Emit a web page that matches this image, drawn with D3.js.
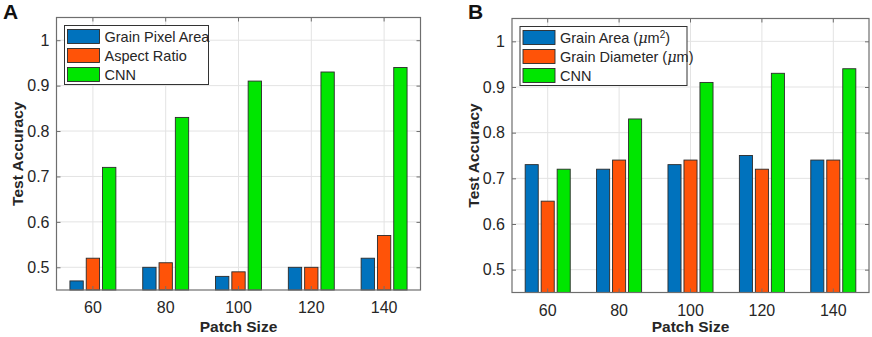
<!DOCTYPE html>
<html>
<head>
<meta charset="utf-8">
<script src="https://cdn.jsdelivr.net/npm/d3@7"></script>
<style>
  body { margin: 0; background: #fff; }
  svg { font-family: "Liberation Sans", Arial, Helvetica, sans-serif; }
</style>
</head>
<body>
<svg id="chart" width="872" height="337"></svg>
<script>
// data
const patchSizes = ['60', '80', '100', '120', '140'];
const yTicks = [0.5, 0.6, 0.7, 0.8, 0.9, 1];

const grainPixelArea = [0.47, 0.50, 0.48, 0.50, 0.52];
const aspectRatio = [0.52, 0.51, 0.49, 0.50, 0.57];
const cnnA = [0.72, 0.83, 0.91, 0.93, 0.94];

const grainArea = [0.73, 0.72, 0.73, 0.75, 0.74];
const grainDiameter = [0.65, 0.74, 0.74, 0.72, 0.74];
const cnnB = [0.72, 0.83, 0.91, 0.93, 0.94];

const colors = ['#0072bd', '#ff5308', '#00e600'];

const svg = d3.select('#chart');

const drawPanel = ({ letter, letterX, box, series, labels, yLabelX }) => {
    const x = d3.scaleBand().domain(patchSizes).range([box.left, box.right]).padding(0);
    const y = d3.scaleLinear().domain([0.45, 1.05]).range([box.bottom, box.top]);
    const bw = x.bandwidth();
    const x1 = d3
        .scaleBand()
        .domain(d3.range(series.length))
        .range([bw * (0.5 - 0.336), bw * (0.5 + 0.336)])
        .paddingInner(0.183)
        .paddingOuter(0.0915);

    const g = svg.append('g');

    // grid
    g.selectAll()
        .data(yTicks)
        .join('line')
        .attr('x1', box.left)
        .attr('x2', box.right)
        .attr('y1', (d) => y(d))
        .attr('y2', (d) => y(d))
        .attr('stroke', '#e3e3e3')
        .attr('stroke-width', 1);
    g.selectAll()
        .data(patchSizes)
        .join('line')
        .attr('x1', (d) => x(d) + bw / 2)
        .attr('x2', (d) => x(d) + bw / 2)
        .attr('y1', box.top)
        .attr('y2', box.bottom)
        .attr('stroke', '#e3e3e3')
        .attr('stroke-width', 1);

    // bars
    series.forEach((vals, si) => {
        g.selectAll()
            .data(vals)
            .join('rect')
            .attr('x', (d, i) => x(patchSizes[i]) + x1(si))
            .attr('width', x1.bandwidth())
            .attr('y', (d) => y(d))
            .attr('height', (d) => box.bottom - y(d))
            .attr('fill', colors[si])
            .attr('stroke', '#2b2b2b')
            .attr('stroke-width', 0.9);
    });

    // axes
    const yAxis = g.append('g').attr('transform', `translate(${box.left},0)`)
        .call(d3.axisLeft(y).tickValues(yTicks).tickFormat(d3.format('~g')).tickSize(-4).tickPadding(7));
    const yAxisR = g.append('g').attr('transform', `translate(${box.right},0)`)
        .call(d3.axisRight(y).tickValues(yTicks).tickFormat('').tickSize(-4));
    const xAxis = g.append('g').attr('transform', `translate(0,${box.bottom})`)
        .call(d3.axisBottom(x).tickSize(-4).tickPadding(12));
    const xAxisT = g.append('g').attr('transform', `translate(0,${box.top})`)
        .call(d3.axisTop(x).tickFormat('').tickSize(-4));
    [yAxis, yAxisR, xAxis, xAxisT].forEach((a) => {
        a.select('.domain').remove();
        a.selectAll('.tick line').attr('stroke', '#6e6e6e');
        a.selectAll('text').attr('font-size', 16).attr('fill', '#262626')
            .attr('font-family', '"Liberation Sans", Arial, sans-serif');
    });

    g.append('rect')
        .attr('x', box.left)
        .attr('y', box.top)
        .attr('width', box.right - box.left)
        .attr('height', box.bottom - box.top)
        .attr('fill', 'none')
        .attr('stroke', '#6e6e6e')
        .attr('stroke-width', 1.2);

    // axis labels
    g.append('text')
        .attr('x', (box.left + box.right) / 2)
        .attr('y', 332)
        .attr('text-anchor', 'middle')
        .attr('font-size', 15.5)
        .attr('font-weight', 'bold')
        .attr('fill', '#262626')
        .text('Patch Size');
    g.append('text')
        .attr('transform', `translate(${yLabelX},${(box.top + box.bottom) / 2}) rotate(-90)`)
        .attr('text-anchor', 'middle')
        .attr('font-size', 15.5)
        .attr('font-weight', 'bold')
        .attr('fill', '#262626')
        .text('Test Accuracy');

    // panel letter
    g.append('text')
        .attr('x', letterX)
        .attr('y', 19)
        .attr('font-size', 21)
        .attr('font-weight', 'bold')
        .attr('fill', '#111')
        .text(letter);

    // legend
    const lg = g.append('g').attr('transform', `translate(${box.left + 8},${box.top + 8})`);
    lg.append('rect')
        .attr('width', labels.width)
        .attr('height', 59)
        .attr('fill', '#fff')
        .attr('stroke', '#333')
        .attr('stroke-width', 1);
    labels.items.forEach((lab, i) => {
        const row = lg.append('g').attr('transform', `translate(3,${4 + i * 19})`);
        row.append('rect')
            .attr('width', 32)
            .attr('height', 14)
            .attr('fill', colors[i])
            .attr('stroke', '#2b2b2b')
            .attr('stroke-width', 0.9);
        const t = row.append('text')
            .attr('x', 37)
            .attr('y', 12.5)
            .attr('font-size', 14.5)
            .attr('fill', '#262626');
        lab.forEach((part) => {
            const s = t.append('tspan').text(part.t);
            if (part.italic) s.attr('font-style', 'italic').attr('font-family', '"DejaVu Serif", serif');
            if (part.sup) s.attr('baseline-shift', 'super').attr('font-size', 10);
        });
    });
};

drawPanel({
    letter: 'A',
    letterX: 3,
    box: { left: 56.5, right: 420.5, top: 17.5, bottom: 290 },
    series: [grainPixelArea, aspectRatio, cnnA],
    labels: {
        width: 144,
        items: [[{ t: 'Grain Pixel Area' }], [{ t: 'Aspect Ratio' }], [{ t: 'CNN' }]],
    },
    yLabelX: 23,
});

drawPanel({
    letter: 'B',
    letterX: 468,
    box: { left: 512, right: 869, top: 18.5, bottom: 292.5 },
    series: [grainArea, grainDiameter, cnnB],
    labels: {
        width: 167,
        items: [
            [{ t: 'Grain Area (' }, { t: 'μ', italic: true }, { t: 'm' }, { t: '2', sup: true }, { t: ')' }],
            [{ t: 'Grain Diameter (' }, { t: 'μ', italic: true }, { t: 'm)' }],
            [{ t: 'CNN' }],
        ],
    },
    yLabelX: 479,
});
</script>
</body>
</html>
